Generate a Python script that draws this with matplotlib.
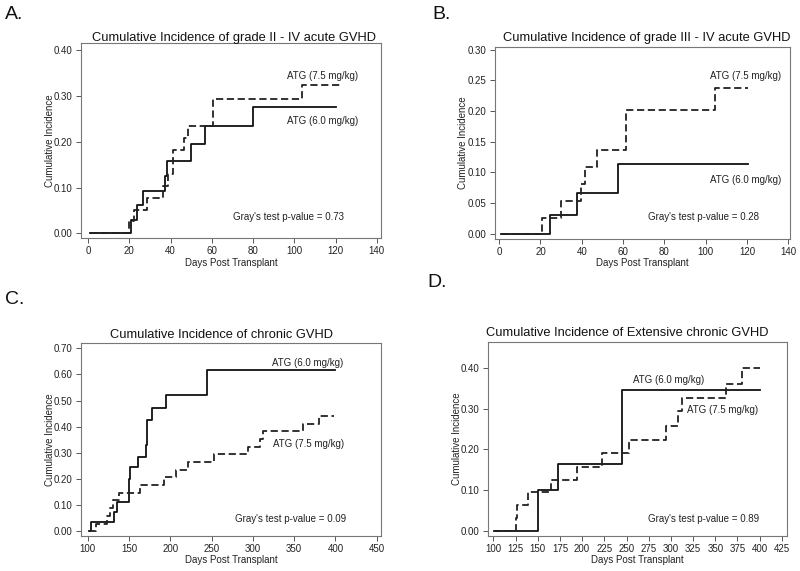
import matplotlib
matplotlib.use("Agg")
import matplotlib.pyplot as plt
import numpy as np

plt.rcParams["font.family"] = ["Liberation Sans", "DejaVu Sans"]

# ---- data (days, cumulative incidence) ----
# A. grade II-IV acute GVHD
a_t60 = [1, 21, 23.6, 26.5, 37.3, 38.1, 49.7, 56.7, 79.8, 120]
a_ci60 = [0, 0.030, 0.061, 0.092, 0.125, 0.157, 0.194, 0.235, 0.275, 0.275]
a_t75 = [1, 20, 22.3, 28.4, 36.5, 38.9, 41.3, 46.5, 48.6, 60.4, 103.5, 123]
a_ci75 = [0, 0.026, 0.051, 0.077, 0.103, 0.129, 0.182, 0.208, 0.235, 0.293, 0.323, 0.323]

# B. grade III-IV acute GVHD
b_t60 = [1, 24.7, 37.6, 57.5, 120.5]
b_ci60 = [0, 0.031, 0.066, 0.113, 0.113]
b_t75 = [1, 20.7, 29.9, 39.6, 41.7, 47.3, 61.4, 104.3, 120.5]
b_ci75 = [0, 0.026, 0.053, 0.080, 0.108, 0.137, 0.202, 0.237, 0.237]

# C. chronic GVHD
c_t60 = [102, 104, 131.3, 135.4, 150, 151, 161, 170.4, 172.4, 177.3, 194.6, 244.2, 400]
c_ci60 = [0, 0.035, 0.075, 0.113, 0.200, 0.245, 0.285, 0.330, 0.425, 0.470, 0.522, 0.617, 0.617]
c_t75 = [102, 110, 123.7, 127, 130.2, 138.3, 163.5, 192.5, 206.6, 221.1, 253.3,
         294.5, 308.7, 311.8, 361, 380.5, 398.3]
c_ci75 = [0, 0.029, 0.059, 0.088, 0.118, 0.147, 0.176, 0.206, 0.235, 0.265, 0.294,
          0.324, 0.353, 0.382, 0.412, 0.441, 0.441]

# D. extensive chronic GVHD
d_t60 = [101, 150, 172.4, 244.7, 400.5]
d_ci60 = [0, 0.099, 0.165, 0.346, 0.346]
d_t75 = [101, 125.2, 127, 139.6, 164.4, 194.1, 222.3, 252.7, 294.4, 307.6, 312.5,
         361.6, 380.4, 400.5]
d_ci75 = [0, 0.031, 0.062, 0.094, 0.125, 0.156, 0.190, 0.224, 0.258, 0.293, 0.326,
          0.361, 0.399, 0.399]

titles = ["Cumulative Incidence of grade II - IV acute GVHD",
          "Cumulative Incidence of grade III - IV acute GVHD",
          "Cumulative Incidence of chronic GVHD",
          "Cumulative Incidence of Extensive chronic GVHD"]
pvals = ["0.73", "0.28", "0.09", "0.89"]
letters = ["A.", "B.", "C.", "D."]

fig = plt.figure(figsize=(8, 5.71), dpi=100)

panels = [
    # rect, xlim, ylim, xticks, yticks, title pos, data, label positions
    dict(rect=[0.10125, 0.5832, 0.375, 0.3415], xlim=(-3.4, 142), ylim=(-0.010, 0.415),
         xt=np.arange(0, 141, 20), yt=np.arange(0, 0.41, 0.1), tpos=(0.51, 1.027),
         s60=(a_t60, a_ci60), s75=(a_t75, a_ci75),
         l75=(96.4, 0.343), l60=(96.4, 0.245), lp=(70.3, 0.036), ylx=-0.103),
    dict(rect=[0.619, 0.5814, 0.369, 0.336], xlim=(-1.9, 141), ylim=(-0.009, 0.304),
         xt=np.arange(0, 141, 20), yt=np.arange(0, 0.31, 0.05), tpos=(0.514, 1.047),
         s60=(b_t60, b_ci60), s75=(b_t75, b_ci75),
         l75=(102.2, 0.257), l60=(102.2, 0.087), lp=(72.2, 0.027), ylx=-0.108),
    dict(rect=[0.10125, 0.0613, 0.375, 0.338], xlim=(91.9, 455.2), ylim=(-0.018, 0.72),
         xt=np.arange(100, 451, 50), yt=np.arange(0, 0.71, 0.1), tpos=(0.469, 1.041),
         s60=(c_t60, c_ci60), s75=(c_t75, c_ci75),
         l75=(324.4, 0.332), l60=(323.2, 0.643), lp=(278.4, 0.046), ylx=-0.103),
    dict(rect=[0.61, 0.0613, 0.374, 0.34], xlim=(94, 431), ylim=(-0.013, 0.464),
         xt=np.arange(100, 426, 25), yt=np.arange(0, 0.41, 0.1), tpos=(0.467, 1.046),
         s60=(d_t60, d_ci60), s75=(d_t75, d_ci75),
         l75=(318.2, 0.297), l60=(257.4, 0.371), lp=(274.3, 0.028), ylx=-0.105),
]

for i, p in enumerate(panels):
    ax = fig.add_axes(p["rect"])
    t, ci = p["s60"]
    ax.step(t, ci, where="post", color="#111111", lw=1.3)
    t, ci = p["s75"]
    ax.step(t, ci, where="post", color="#222222", lw=1.3, dashes=(4, 2))
    ax.set_xlim(*p["xlim"])
    ax.set_ylim(*p["ylim"])
    ax.set_xticks(p["xt"])
    ax.set_xticklabels([f"{v:g}" for v in p["xt"]])
    ax.set_yticks(p["yt"])
    ax.set_yticklabels([f"{v:.2f}" for v in p["yt"]])
    for s in ax.spines.values():
        s.set_color("#777777")
        s.set_linewidth(0.8)
    ax.tick_params(direction="out", length=3.5, width=0.7, color="#555555",
                   labelsize=7, labelcolor="#222222", pad=2.5)
    ax.text(p["tpos"][0], p["tpos"][1], titles[i], transform=ax.transAxes,
            ha="center", va="center", fontsize=9.3, color="#111111")
    ax.set_xlabel("Days Post Transplant", fontsize=7, color="#222222", va="center")
    ax.xaxis.set_label_coords(0.5, -0.126)
    ax.set_ylabel("Cumulative Incidence", fontsize=7, color="#222222", va="center")
    ax.yaxis.set_label_coords(p["ylx"], 0.5)
    ax.text(*p["l75"], "ATG (7.5 mg/kg)", fontsize=7, color="#222222", va="center")
    ax.text(*p["l60"], "ATG (6.0 mg/kg)", fontsize=7, color="#222222", va="center")
    ax.text(*p["lp"], f"Gray's test p-value = {pvals[i]}", fontsize=7,
            color="#222222", va="center")

letter_pos = [(0.006, 0.974), (0.541, 0.975), (0.006, 0.476), (0.534, 0.506)]
for (x, y), lab in zip(letter_pos, letters):
    fig.text(x, y, lab, fontsize=14, color="#111111", va="center", ha="left")

fig.savefig("out.png", dpi=100)
